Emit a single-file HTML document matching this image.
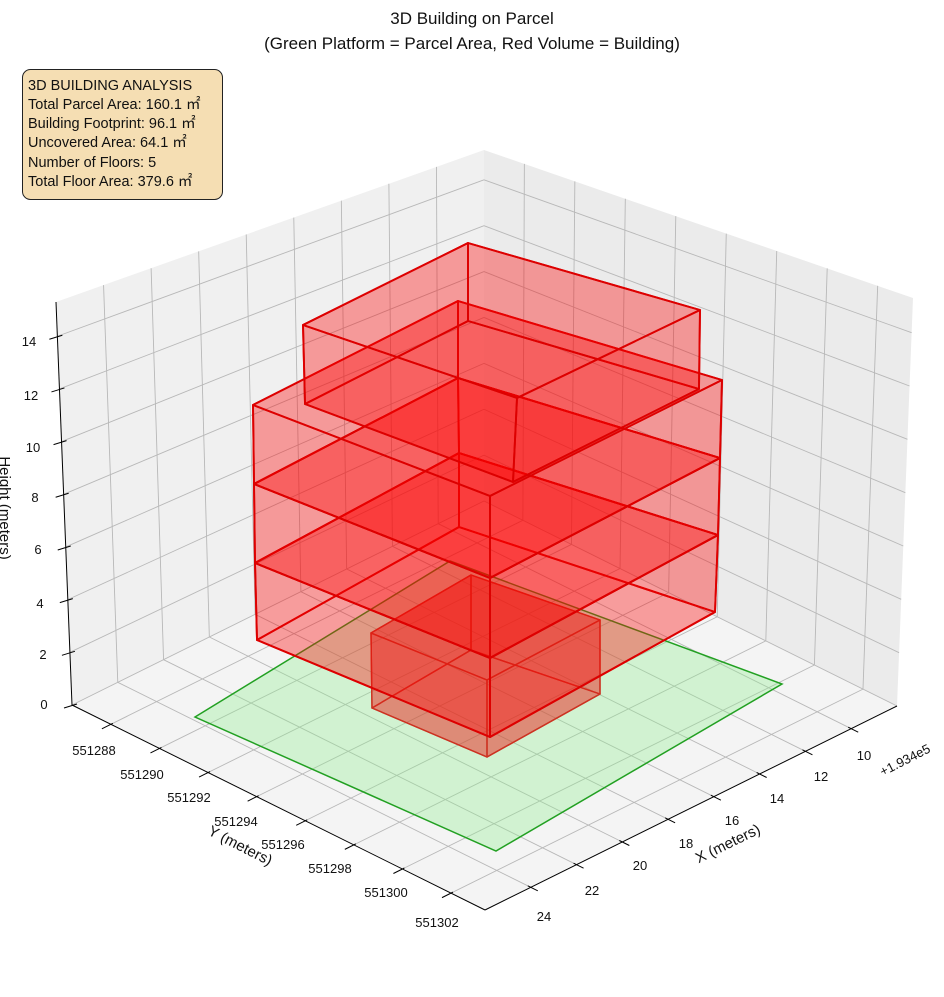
<!DOCTYPE html>
<html><head><meta charset="utf-8"><style>
html,body{margin:0;padding:0;background:#fff;}
svg text{font-family:"Liberation Sans","Noto Sans CJK JP",sans-serif;fill:#111;}
</style></head><body>
<svg id="s" width="944" height="992" viewBox="0 0 944 992" xmlns="http://www.w3.org/2000/svg">
<text x="472" y="24" font-size="17" text-anchor="middle">3D Building on Parcel</text>
<text x="472" y="49" font-size="17" text-anchor="middle">(Green Platform = Parcel Area, Red Volume = Building)</text>
<g id="panes">
<polygon points="56,302 484,150 484,501 72,705" fill="#f0f0f0"/>
<polygon points="484,150 913,298 897,706 484,501" fill="#ebebeb"/>
<polygon points="484,501 72,705 485,910 897,706" fill="#f4f4f4"/>
</g>
<g id="grid" stroke="#b8b8b8" stroke-width="0.9" fill="none"></g>
<polygon points="195,717 450,561 782,684 496,851" fill="rgba(144,238,144,0.35)" stroke="#22a022" stroke-width="1.5"/>
<g id="boxes"></g>
<g stroke="#000" stroke-width="1" fill="none">
<line x1="56" y1="302" x2="72" y2="705"/>
<line x1="72" y1="705" x2="485" y2="910"/>
<line x1="485" y1="910" x2="897" y2="706"/>
</g>
<g id="ticks" stroke="#000" stroke-width="1"></g>
<g font-size="13" text-anchor="middle">
<text x="44" y="709">0</text><text x="43" y="659">2</text><text x="40" y="608">4</text><text x="38" y="554">6</text>
<text x="35" y="502">8</text><text x="33" y="452">10</text><text x="31" y="400">12</text><text x="29" y="346">14</text>
<text x="94" y="755">551288</text><text x="142" y="779">551290</text><text x="189" y="802">551292</text><text x="236" y="826">551294</text>
<text x="283" y="849">551296</text><text x="330" y="873">551298</text><text x="386" y="897">551300</text><text x="437" y="927">551302</text>
<text x="864" y="760">10</text><text x="821" y="781">12</text><text x="777" y="803">14</text><text x="732" y="825">16</text>
<text x="686" y="848">18</text><text x="640" y="870">20</text><text x="592" y="895">22</text><text x="544" y="921">24</text>
</g>
<text font-size="13" transform="translate(907,764) rotate(-27)" text-anchor="middle">+1.934e5</text>
<text font-size="15" transform="translate(730,848) rotate(-26)" text-anchor="middle">X (meters)</text>
<text font-size="15" transform="translate(238,850) rotate(27)" text-anchor="middle">Y (meters)</text>
<text font-size="15" transform="translate(0,508) rotate(90)" text-anchor="middle">Height (meters)</text>
<rect x="22.5" y="69.5" width="200" height="130" rx="8" fill="#f5deb3" stroke="#222" stroke-width="1"/>
<g font-size="14.5">
<text x="28" y="90">3D BUILDING ANALYSIS</text>
<text x="28" y="109">Total Parcel Area: 160.1 ㎡</text>
<text x="28" y="128">Building Footprint: 96.1 ㎡</text>
<text x="28" y="147">Uncovered Area: 64.1 ㎡</text>
<text x="28" y="167">Number of Floors: 5</text>
<text x="28" y="186">Total Floor Area: 379.6 ㎡</text>
</g>
</svg>
<script>
var NS="http://www.w3.org/2000/svg";
function el(parent,tag,attrs){var e=document.createElementNS(NS,tag);for(var k in attrs)e.setAttribute(k,attrs[k]);document.getElementById(parent).appendChild(e);return e;}
function bil(q,u,v){return [q[0][0]*(1-u)*(1-v)+q[1][0]*u*(1-v)+q[2][0]*(1-u)*v+q[3][0]*u*v,
 q[0][1]*(1-u)*(1-v)+q[1][1]*u*(1-v)+q[2][1]*(1-u)*v+q[3][1]*u*v];}
function ln(g,a,b){el(g,"line",{x1:a[0],y1:a[1],x2:b[0],y2:b[1]});}
var xf=[],yf=[],zf=[];
for(var k=1;k<=8;k++)xf.push(k/9);
for(var k=0;k<8;k++)yf.push((1.6+2*k)/17);
for(var k=0;k<8;k++)zf.push(2*k/15.3);
var left=[[484,501],[72,705],[484,150],[56,302]];
var right=[[484,501],[897,706],[484,150],[913,298]];
var floor=[[484,501],[72,705],[897,706],[485,910]];
xf.forEach(function(u){ln("grid",bil(left,u,0),bil(left,u,1));ln("grid",bil(floor,u,0),bil(floor,u,1));});
yf.forEach(function(u){ln("grid",bil(right,u,0),bil(right,u,1));ln("grid",bil(floor,0,u),bil(floor,1,u));});
zf.forEach(function(v){ln("grid",bil(left,0,v),bil(left,1,v));ln("grid",bil(right,0,v),bil(right,1,v));});
xf.forEach(function(f){var p=[897-412*f,706+204*f];ln("ticks",[p[0]-3,p[1]-1.5],[p[0]+7,p[1]+3.5]);});
yf.forEach(function(f){var p=[72+413*f,705+205*f];ln("ticks",[p[0]-9,p[1]+4.5],[p[0]+2,p[1]-1]);});
zf.forEach(function(f){var z=f;var p=[72-16*z,705-403*z];ln("ticks",[p[0]-8,p[1]+3],[p[0]+5,p[1]-1]);});
function box(b,t,fill,stroke,sw){
 var faces=[b,t,[b[0],b[1],t[1],t[0]],[b[1],b[2],t[2],t[1]],[b[2],b[3],t[3],t[2]],[b[3],b[0],t[0],t[3]]];
 faces.forEach(function(f){el("boxes","polygon",{points:f.map(function(p){return p.join(",")}).join(" "),fill:fill,stroke:stroke,"stroke-width":sw,"stroke-linejoin":"round"});});
}
var R="rgba(255,0,0,0.2)";
box([[372,708],[471,650],[600,694],[487,757]],[[371,633],[471,575],[600,620],[487,680]],"rgba(235,30,20,0.28)","#cc3322",1.4);
var f2b=[[257,640],[459,527],[715,612],[490,737]];
var f2t=[[255,563],[459,453],[718,535],[490,658]];
var f3t=[[254,484],[458,378],[720,458],[490,578]];
var f4t=[[253,405],[458,301],[722,380],[490,496]];
box(f2b,f2t,R,"#dd0000",1.9);
box(f2t,f3t,R,"#dd0000",1.9);
box(f3t,f4t,R,"#dd0000",1.9);
box([[305,404],[468,321],[699,389],[513,482]],[[303,325],[468,243],[700,310],[517,398]],R,"#dd0000",1.9);
</script>
</body></html>
